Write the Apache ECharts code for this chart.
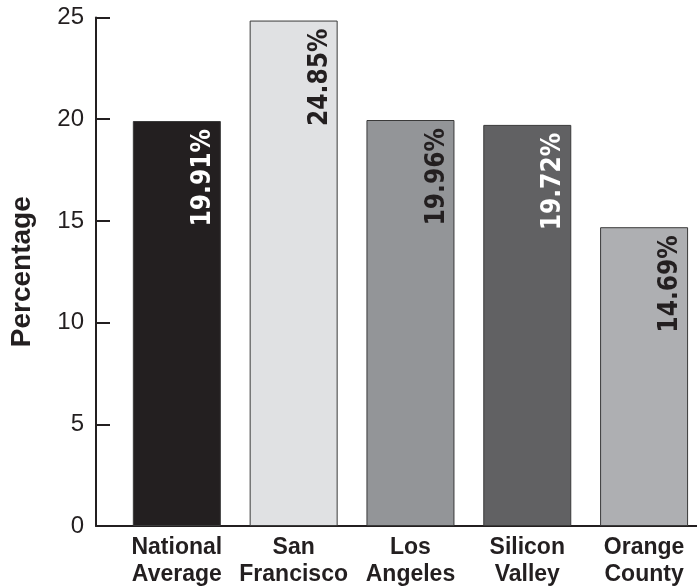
<!DOCTYPE html>
<html><head><meta charset="utf-8">
<script src="https://cdn.jsdelivr.net/npm/echarts@6/dist/echarts.min.js"></script>
<style>html,body{margin:0;padding:0;background:#fff}#c{width:697px;height:588px}</style>
</head><body><div id="c"></div>
<script>
const categories = ['National\nAverage', 'San\nFrancisco', 'Los\nAngeles', 'Silicon\nValley', 'Orange\nCounty'];
const values = [19.91, 24.85, 19.96, 19.72, 14.69];
const barColors = ['#231f20', '#e0e1e3', '#939598', '#616163', '#aeafb2'];
const labelColors = ['#ffffff', '#231f20', '#231f20', '#ffffff', '#231f20'];
const yTicks = [0, 5, 10, 15, 20, 25];

const chart = echarts.init(document.getElementById('c'));
chart.setOption({
  animation: false,
  grid: { left: 95, right: 0, top: 17.5, bottom: 60 },
  xAxis: {
    type: 'value', min: -0.692, max: 4.453,
    splitLine: { show: false },
    axisLine: { show: true, lineStyle: { color: '#231f20', width: 2 } },
    axisTick: { show: false },
    axisLabel: {
      customValues: categories.map((c, i) => i),
      formatter: v => categories[Math.round(v)],
      fontFamily: 'Liberation Sans', fontWeight: 'bold', fontSize: 23,
      color: '#231f20', lineHeight: 27, margin: 8
    }
  },
  yAxis: {
    type: 'value', min: 0, max: 25, interval: 5,
    name: 'Percentage', nameLocation: 'middle', nameGap: 60,
    nameTextStyle: { fontFamily: 'Liberation Sans', fontWeight: 'bold', fontSize: 28, color: '#231f20' },
    splitLine: { show: false },
    axisLine: { show: true, onZero: false, lineStyle: { color: '#231f20', width: 2 } },
    axisTick: { show: true, inside: true, length: 14, lineStyle: { color: '#231f20', width: 2 } },
    axisLabel: { fontFamily: 'Liberation Sans', fontSize: 24, color: '#231f20', margin: 12,
      formatter: v => yTicks.includes(v) ? String(v) : '' }
  },
  series: [{
    type: 'bar',
    barWidth: 88,
    data: values.map((v, i) => ({
      value: [i, v],
      itemStyle: { color: barColors[i], borderColor: '#3a3a3a', borderWidth: 1 },
      label: { color: labelColors[i] }
    })),
    label: {
      show: true,
      formatter: p => values[p.dataIndex].toFixed(2) + '%',
      position: ['80%', 8],
      rotate: 90,
      align: 'right',
      verticalAlign: 'middle',
      fontFamily: '"DejaVu Sans Condensed", "DejaVu Sans"', fontWeight: 'bold', fontSize: 26
    }
  }]
});
</script></body></html>
